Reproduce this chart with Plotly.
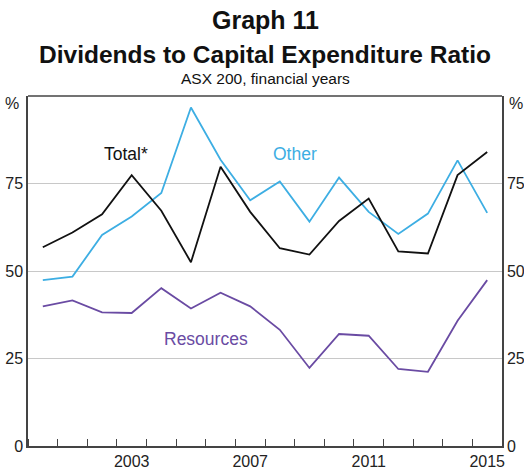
import plotly.graph_objects as go

years = list(range(2000, 2016))
total = [56.8, 61.0, 66.2, 77.4, 67.2, 52.5, 79.8, 66.9,
         56.5, 54.7, 64.3, 70.7, 55.6, 55.0, 77.4, 84.0]
other = [47.4, 48.4, 60.3, 65.6, 72.3, 96.7, 81.8, 70.2,
         75.6, 64.1, 76.7, 66.9, 60.6, 66.4, 81.6, 66.6]
resources = [39.9, 41.6, 38.2, 38.0, 45.1, 39.3, 43.8, 39.9,
             33.2, 22.3, 32.0, 31.5, 22.0, 21.2, 35.8, 47.4]

year_labels = [2003, 2007, 2011, 2015]
y_ticks = [0, 25, 50, 75]

FONT = "Liberation Sans, Arial, sans-serif"
BLUE = "#3DAEE3"
PURPLE = "#6A4BA3"
AXIS = "#444444"

fig = go.Figure()
fig.add_trace(go.Scatter(x=years, y=other, mode="lines", name="Other",
                         line=dict(color=BLUE, width=1.8)))
fig.add_trace(go.Scatter(x=years, y=total, mode="lines", name="Total*",
                         line=dict(color="#111111", width=1.8)))
fig.add_trace(go.Scatter(x=years, y=resources, mode="lines", name="Resources",
                         line=dict(color=PURPLE, width=1.8)))
# invisible trace to carry the right-hand axis
fig.add_trace(go.Scatter(x=[years[0]], y=[0], yaxis="y2", mode="markers",
                         marker=dict(opacity=0), showlegend=False, hoverinfo="skip"))

boundaries = [y - 0.5 for y in years] + [years[-1] + 0.5]

fig.update_layout(
    width=524, height=473,
    margin=dict(l=28, r=22, t=96, b=27),
    paper_bgcolor="white", plot_bgcolor="white",
    showlegend=False,
    font=dict(family=FONT, color="#222222", size=16),
    xaxis=dict(
        range=[1999.5, 2015.5], tickvals=year_labels, ticks="",
        showgrid=False, zeroline=False, automargin=False,
        showline=True, linecolor=AXIS, linewidth=1.5,
        tickfont=dict(size=16),
        minor=dict(tickvals=boundaries, ticks="inside", ticklen=7,
                   tickcolor=AXIS, tickwidth=1, showgrid=False),
    ),
    yaxis=dict(
        range=[0, 100], tickvals=y_ticks, ticks="", automargin=False,
        showgrid=True, gridcolor="#c8c8c8", gridwidth=1, zeroline=False,
        showline=True, linecolor=AXIS, linewidth=1.5,
        tickfont=dict(size=16),
    ),
    yaxis2=dict(
        range=[0, 100], tickvals=y_ticks, ticks="", overlaying="y", side="right",
        showgrid=False, zeroline=False, automargin=False,
        showline=True, linecolor=AXIS, linewidth=1.5,
        tickfont=dict(size=16),
    ),
)

# top border of the frame
fig.add_shape(type="line", xref="paper", yref="paper", x0=0, x1=1, y0=1, y1=1,
              line=dict(color=AXIS, width=1.5))

titles = [
    ("<b>Graph 11</b>", 20, 25),
    ("<b>Dividends to Capital Expenditure Ratio</b>", 55, 24.5),
    ("ASX 200, financial years", 78, 15.5),
]
for text, ypx, size in titles:
    fig.add_annotation(text=text, x=0.5, xref="paper",
                       y=(473 - 27 - ypx) / (473 - 96 - 27), yref="paper",
                       yanchor="middle", showarrow=False,
                       font=dict(size=size, color="#111111"))

for xpos, anchor in [(-0.015, "right"), (1.01, "left")]:
    fig.add_annotation(text="%", x=xpos, xref="paper", y=98, yref="y",
                       xanchor=anchor, showarrow=False, font=dict(size=16))

fig.add_annotation(text="Total*", x=2002.8, y=83.5, showarrow=False,
                   font=dict(size=17.5, color="#111111"))
fig.add_annotation(text="Other", x=2008.5, y=83.5, showarrow=False,
                   font=dict(size=17.5, color=BLUE))
fig.add_annotation(text="Resources", x=2005.5, y=30.5, showarrow=False,
                   font=dict(size=17.5, color=PURPLE))

fig.write_html("out.html", config={"displayModeBar": False},
               post_script="document.body.style.margin='0';")
